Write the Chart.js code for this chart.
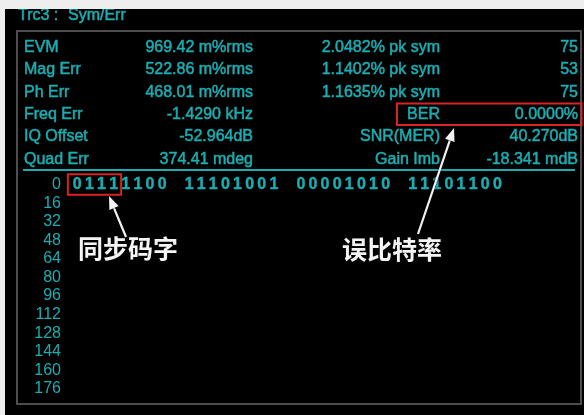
<!DOCTYPE html>
<html>
<head>
<meta charset="utf-8">
<script src="https://cdn.jsdelivr.net/npm/chart.js@4.4.1/dist/chart.umd.min.js"></script>
<style>
  html, body { margin: 0; padding: 0; background: #eeeeee; }
  #wrap { width: 584px; height: 415px; }
</style>
</head>
<body>
<div id="wrap"><canvas id="symChart" width="584" height="415"></canvas></div>
<script>
// --- data ---
const traceTitle = "Trc3 :";
const traceName = "Sym/Err";
const measNames = ["EVM", "Mag Err", "Ph Err", "Freq Err", "IQ Offset", "Quad Err"];
const measValues = ["969.42 m%rms", "522.86 m%rms", "468.01 m%rms", "-1.4290 kHz", "-52.964dB", "374.41 mdeg"];
const peakNames = ["2.0482% pk sym", "1.1402% pk sym", "1.1635% pk sym", "BER", "SNR(MER)", "Gain Imb"];
const peakValues = ["75", "53", "75", "0.0000%", "40.270dB", "-18.341 mdB"];
const rowOffsets = ["0", "16", "32", "48", "64", "80", "96", "112", "128", "144", "160", "176"];
const symbolBytes = ["01111100", "11101001", "00001010", "11101100"];
const syncLabel = "同步码字";
const berLabel = "误比特率";

// --- look ---
const TEAL = "#1aaeb3";
const FONT = '"Liberation Sans", Arial, sans-serif';
const RED = "#d82424";
const BYTE_STRIDE = 9.23; // byte column stride in character cells

// one point per bit, placed on the offset row it belongs to
const bitPoints = [];
symbolBytes.forEach((b, g) => {
  b.split("").forEach((bit, k) => {
    bitPoints.push({ x: g * BYTE_STRIDE + k, y: rowOffsets[0], bit: bit });
  });
});

// blurry screenshot look: thicken teal text a little
function tealText(ctx, txt, x, y) {
  ctx.fillText(txt, x, y);
  ctx.strokeText(txt, x, y);
}

function drawArrow(ctx, x1, y1, x2, y2) {
  const ang = Math.atan2(y2 - y1, x2 - x1);
  const len = 13, half = 5;
  ctx.save();
  ctx.shadowColor = "rgba(0,0,0,0.9)";
  ctx.shadowBlur = 2;
  ctx.strokeStyle = "#f2f2f2";
  ctx.fillStyle = "#f2f2f2";
  ctx.lineWidth = 2.2;
  ctx.beginPath();
  ctx.moveTo(x1, y1);
  ctx.lineTo(x2 - Math.cos(ang) * len * 0.8, y2 - Math.sin(ang) * len * 0.8);
  ctx.stroke();
  ctx.beginPath();
  ctx.moveTo(x2, y2);
  ctx.lineTo(x2 - Math.cos(ang) * len - Math.sin(ang) * half, y2 - Math.sin(ang) * len + Math.cos(ang) * half);
  ctx.lineTo(x2 - Math.cos(ang) * len + Math.sin(ang) * half, y2 - Math.sin(ang) * len - Math.cos(ang) * half);
  ctx.closePath();
  ctx.fill();
  ctx.restore();
}

const screenPlugin = {
  id: "screen",
  beforeDraw(chart) {
    const ctx = chart.ctx;
    ctx.save();
    // screen background + inner frame
    ctx.fillStyle = "#000";
    ctx.fillRect(5, 9, 579, 406);
    ctx.strokeStyle = "#4e4e4e";
    ctx.lineWidth = 2;
    ctx.strokeRect(17, 31, 564, 373);

    // title (top is clipped by the window edge)
    ctx.fillStyle = TEAL;
    ctx.strokeStyle = TEAL;
    ctx.lineWidth = 0.5;
    ctx.font = "16px " + FONT;
    ctx.textBaseline = "alphabetic";
    ctx.textAlign = "left";
    tealText(ctx, traceTitle, 18, 20);
    tealText(ctx, traceName, 68, 20);

    // measurement table
    measNames.forEach((name, i) => {
      const yb = 52 + i * 22.3;
      ctx.textAlign = "left";
      tealText(ctx, name, 24, yb);
      ctx.textAlign = "right";
      tealText(ctx, measValues[i], 253, yb);
      tealText(ctx, peakNames[i], 440, yb);
      tealText(ctx, peakValues[i], 578, yb);
    });

    // separator
    ctx.lineWidth = 2;
    ctx.beginPath();
    ctx.moveTo(23, 170);
    ctx.lineTo(575, 170);
    ctx.stroke();
    ctx.restore();
  },
  afterDatasetsDraw(chart) {
    const ctx = chart.ctx;
    const meta = chart.getDatasetMeta(0);
    ctx.save();
    ctx.fillStyle = TEAL;
    ctx.strokeStyle = TEAL;
    ctx.lineWidth = 0.4;
    ctx.font = "bold 16px " + FONT;
    ctx.textAlign = "center";
    ctx.textBaseline = "middle";
    meta.data.forEach((el, i) => {
      tealText(ctx, bitPoints[i].bit, el.x, el.y);
    });
    ctx.restore();
  },
  afterDraw(chart) {
    const ctx = chart.ctx;
    const meta = chart.getDatasetMeta(0);
    ctx.save();
    // red box round the sync word (first four bits)
    const p0 = meta.data[0], p3 = meta.data[3];
    ctx.strokeStyle = RED;
    ctx.lineWidth = 2;
    ctx.strokeRect(p0.x - 9.5, p0.y - 10.5, p3.x - p0.x + 17, 20.5);
    // red box round the BER readout
    ctx.strokeRect(397, 103.5, 184.5, 21.5);

    drawArrow(ctx, 126, 237, 109, 196);
    drawArrow(ctx, 418, 234, 454, 128);

    ctx.fillStyle = "#f4f4f4";
    ctx.font = 'bold 25px "Noto Sans CJK SC", sans-serif';
    ctx.textAlign = "left";
    ctx.textBaseline = "middle";
    ctx.fillText(syncLabel, 78, 248);
    ctx.fillText(berLabel, 342, 249);

    // window edge over the screen
    ctx.fillStyle = "#eeeeee";
    ctx.fillRect(0, 0, 584, 9);
    ctx.fillRect(0, 0, 5, 415);
    ctx.restore();
  }
};

new Chart(document.getElementById("symChart").getContext("2d"), {
  type: "scatter",
  data: {
    datasets: [{
      data: bitPoints,
      pointRadius: 0,
      pointHoverRadius: 0,
      showLine: false
    }]
  },
  options: {
    responsive: false,
    animation: false,
    layout: { padding: { top: 175.5, bottom: 17, left: 0, right: 17.5 } },
    plugins: { legend: { display: false }, tooltip: { enabled: false } },
    scales: {
      x: { type: "linear", min: -1.1, max: 40.4, display: false },
      y: {
        type: "category",
        labels: rowOffsets,
        offset: true,
        grid: { display: false, drawTicks: false },
        border: { display: false },
        ticks: { color: TEAL, font: { family: FONT, size: 16 }, padding: 3, autoSkip: false },
        afterFit(scale) { scale.width = 64; }
      }
    }
  },
  plugins: [screenPlugin]
});
</script>
</body>
</html>
